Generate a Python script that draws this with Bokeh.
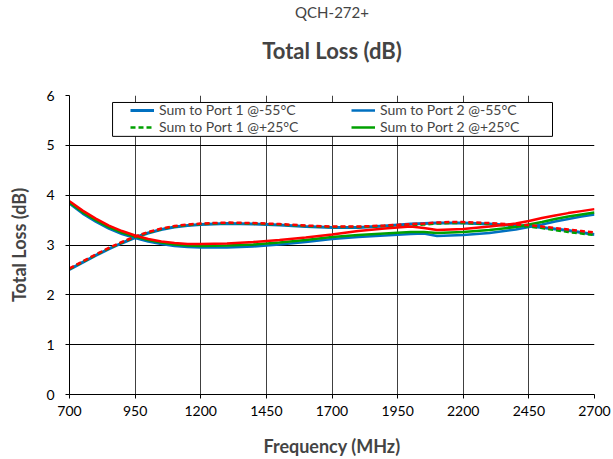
from bokeh.plotting import figure
from bokeh.models import FixedTicker, Title, Legend, LegendItem, BoxAnnotation
from bokeh.embed import file_html
from bokeh.resources import INLINE

freq = [700, 750, 800, 850, 900, 950, 1000, 1050, 1100, 1150, 1200, 1300, 1400, 1500, 1600,
        1700, 1800, 1900, 2000, 2050, 2100, 2150, 2200, 2300, 2400, 2450, 2500, 2550, 2600, 2650, 2700]

p1_m55 = [2.51, 2.65, 2.79, 2.92, 3.04, 3.15, 3.24, 3.31, 3.36, 3.39, 3.41, 3.43, 3.42, 3.40, 3.37,
          3.35, 3.35, 3.38, 3.42, 3.43, 3.44, 3.44, 3.44, 3.42, 3.39, 3.38, 3.35, 3.32, 3.29, 3.25, 3.21]
p1_p25 = [2.52, 2.66, 2.80, 2.93, 3.05, 3.16, 3.25, 3.32, 3.37, 3.40, 3.42, 3.44, 3.43, 3.41, 3.38,
          3.36, 3.36, 3.38, 3.40, 3.41, 3.43, 3.44, 3.44, 3.42, 3.38, 3.37, 3.34, 3.30, 3.26, 3.23, 3.20]
p1_p85 = [2.53, 2.67, 2.81, 2.94, 3.06, 3.17, 3.26, 3.33, 3.38, 3.41, 3.43, 3.45, 3.44, 3.42, 3.39,
          3.37, 3.37, 3.39, 3.42, 3.43, 3.45, 3.46, 3.46, 3.44, 3.41, 3.40, 3.37, 3.34, 3.31, 3.28, 3.25]

p2_m55 = [3.83, 3.63, 3.47, 3.33, 3.22, 3.14, 3.07, 3.02, 2.98, 2.96, 2.95, 2.95, 2.97, 3.01, 3.06,
          3.12, 3.16, 3.19, 3.22, 3.23, 3.18, 3.19, 3.20, 3.24, 3.31, 3.36, 3.41, 3.47, 3.52, 3.57, 3.61]
p2_p25 = [3.85, 3.66, 3.50, 3.36, 3.25, 3.17, 3.10, 3.05, 3.01, 2.99, 2.98, 2.99, 3.01, 3.05, 3.10,
          3.16, 3.20, 3.23, 3.26, 3.26, 3.24, 3.25, 3.26, 3.30, 3.36, 3.41, 3.46, 3.52, 3.57, 3.61, 3.65]
p2_p85 = [3.88, 3.69, 3.53, 3.39, 3.28, 3.19, 3.12, 3.07, 3.04, 3.02, 3.02, 3.03, 3.06, 3.10, 3.15,
          3.21, 3.28, 3.33, 3.37, 3.34, 3.30, 3.31, 3.32, 3.37, 3.43, 3.48, 3.54, 3.59, 3.64, 3.68, 3.72]

x_ticks = [700, 950, 1200, 1450, 1700, 1950, 2200, 2450, 2700]
y_ticks = [0, 1, 2, 3, 4, 5, 6]

BLUE = "#0070C0"
GREEN = "#00A000"
RED = "#FF0000"
FONT = "Lato"

p = figure(frame_width=525, frame_height=299, x_range=(700, 2700), y_range=(0, 6),
           output_backend="svg", toolbar_location=None,
           min_border_left=69, min_border_right=19, min_border_top=94, min_border_bottom=66)

p.title.text = "QCH-272+"
p.title.text_font = FONT
p.title.text_font_size = "15px"
p.title.text_font_style = "normal"
p.title.align = "center"
p.title.standoff = 0
spacer = Title(text=" ", text_font_size="1px", standoff=15)
p.add_layout(spacer, "above")
main = Title(text="Total Loss (dB)", text_font=FONT, text_font_size="22px", text_font_style="bold",
             align="center", standoff=28)
p.add_layout(main, "above")

p.outline_line_color = None
for ax in (p.xaxis, p.yaxis):
    ax.axis_line_color = "black"
    ax.major_tick_line_color = "black"
    ax.minor_tick_line_color = None
    ax.major_label_text_font = FONT
    ax.major_label_text_font_size = "14px"
    ax.major_label_text_color = "black"
    ax.axis_label_text_font = FONT
    ax.axis_label_text_font_size = "18px"
    ax.axis_label_text_font_style = "bold"
    ax.major_tick_in = 0
    ax.major_tick_out = 4

p.xaxis.ticker = FixedTicker(ticks=x_ticks)
p.yaxis.ticker = FixedTicker(ticks=y_ticks)
p.xaxis.axis_label = "Frequency (MHz)"
p.yaxis.axis_label = "Total Loss (dB)"
p.xaxis.axis_label_standoff = 16
p.yaxis.axis_label_standoff = 13
p.xaxis.major_label_standoff = 7
p.yaxis.major_label_standoff = 11

p.xgrid.grid_line_color = "black"
p.ygrid.grid_line_color = "black"
p.xgrid.grid_line_alpha = 0.75
p.ygrid.grid_line_alpha = 1.0

r1 = p.line(freq, p1_m55, line_color=BLUE, line_width=3)
r4 = p.line(freq, p2_m55, line_color=BLUE, line_width=2.5)
r2 = p.line(freq, p1_p25, line_color=GREEN, line_width=2.5, line_dash="5 3")
r5 = p.line(freq, p2_p25, line_color=GREEN, line_width=2.5)
p.line(freq, p1_p85, line_color=RED, line_width=2.5, line_dash="5 3")
p.line(freq, p2_p85, line_color=RED, line_width=2.5)

# legend frame (white box with black border) behind the two legend columns
box = BoxAnnotation(left=864, right=2540, top=5.86, bottom=5.18,
                    fill_color="white", fill_alpha=1, line_color="black", line_width=1,
                    line_alpha=1)
p.add_layout(box)


def make_legend(items, x):
    lg = Legend(items=items, location=(x, 259), orientation="vertical")
    lg.label_text_font = FONT
    lg.label_text_font_size = "14px"
    lg.glyph_width = 24
    lg.glyph_height = 12
    lg.label_height = 12
    lg.spacing = -1
    lg.padding = 0
    lg.margin = 0
    lg.label_standoff = 5
    lg.border_line_color = None
    lg.background_fill_alpha = 0
    return lg


leg1 = make_legend([
    LegendItem(label="Sum to Port 1 @-55°C", renderers=[r1]),
    LegendItem(label="Sum to Port 1 @+25°C", renderers=[r2]),
], 61)
leg2 = make_legend([
    LegendItem(label="Sum to Port 2 @-55°C", renderers=[r4]),
    LegendItem(label="Sum to Port 2 @+25°C", renderers=[r5]),
], 282)
p.add_layout(leg1, "center")
p.add_layout(leg2, "center")

open("out.html", "w").write(file_html(p, INLINE))
